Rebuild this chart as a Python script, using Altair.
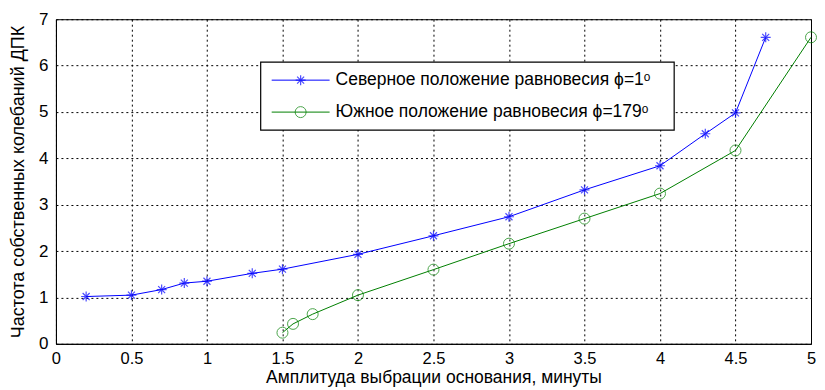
import altair as alt
import pandas as pd

# Data
north_x = [0.2, 0.5, 0.7, 0.85, 1.0, 1.3, 1.5, 2.0, 2.5, 3.0, 3.5, 4.0, 4.3, 4.5, 4.7]
north_y = [1.02, 1.05, 1.17, 1.31, 1.35, 1.52, 1.61, 1.93, 2.33, 2.74, 3.32, 3.84, 4.53, 4.98, 6.61]
south_x = [1.5, 1.57, 1.7, 2.0, 2.5, 3.0, 3.5, 4.0, 4.5, 5.0]
south_y = [0.24, 0.43, 0.64, 1.05, 1.60, 2.16, 2.70, 3.24, 4.17, 6.61]

x_ticks = [0, 0.5, 1, 1.5, 2, 2.5, 3, 3.5, 4, 4.5, 5]
y_ticks = [0, 1, 2, 3, 4, 5, 6, 7]

label_north = "Северное положение равновесия ϕ=1ᵒ"
label_south = "Южное положение равновесия ϕ=179ᵒ"
x_title = "Амплитуда выбрации основания, минуты"
y_title = "Частота собственных колебаний ДПК"

BLUE = "#0000FF"
GREEN = "#008000"
STAR = "M0,-1L0,1M-1,0L1,0M-0.7,-0.7L0.7,0.7M-0.7,0.7L0.7,-0.7"
FONT = "Liberation Sans"

W, H = 756, 325

north = pd.DataFrame({"x": north_x, "y": north_y})
south = pd.DataFrame({"x": south_x, "y": south_y})

xs = alt.Scale(domain=[0, 5], nice=False, zero=False)
ys = alt.Scale(domain=[0, 7], nice=False, zero=False)

xax = alt.Axis(values=x_ticks, format="~g", title=x_title, grid=True,
               gridDash=[2, 3], gridColor="black", gridOpacity=1, gridWidth=1,
               ticks=False, labelFont=FONT, labelFontSize=16.5, labelColor="black",
               labelPadding=7, titleFont=FONT, titleFontSize=17.5,
               titleFontWeight="normal", titleColor="black", titlePadding=1,
               domainColor="black", labelFlush=False)
yax = alt.Axis(values=y_ticks, format="~g", title=y_title, grid=True,
               gridDash=[2, 3], gridColor="black", gridOpacity=1, gridWidth=1,
               ticks=False, labelFont=FONT, labelFontSize=17, labelColor="black",
               labelPadding=8, titleFont=FONT, titleFontSize=18,
               titleFontWeight="normal", titleColor="black", titlePadding=11,
               domainColor="black", labelFlush=False)

n_line = alt.Chart(north).mark_line(color=BLUE, strokeWidth=1).encode(
    x=alt.X("x:Q", scale=xs, axis=xax), y=alt.Y("y:Q", scale=ys, axis=yax))
n_pts = alt.Chart(north).mark_point(shape=STAR, color=BLUE, size=100, strokeWidth=1.2).encode(
    x=alt.X("x:Q", scale=xs), y=alt.Y("y:Q", scale=ys))
s_line = alt.Chart(south).mark_line(color=GREEN, strokeWidth=1).encode(
    x=alt.X("x:Q", scale=xs), y=alt.Y("y:Q", scale=ys))
s_pts = alt.Chart(south).mark_point(shape="circle", color=GREEN, size=121, strokeWidth=1, filled=False).encode(
    x=alt.X("x:Q", scale=xs), y=alt.Y("y:Q", scale=ys))

one = pd.DataFrame({"a": [0]})
leg_box = alt.Chart(one).mark_rect(fill="white", stroke="black", strokeWidth=1.2).encode(
    x=alt.value(205), x2=alt.value(619), y=alt.value(43), y2=alt.value(111))
leg_l1 = alt.Chart(one).mark_rule(color=BLUE, strokeWidth=1).encode(
    x=alt.value(216), x2=alt.value(274), y=alt.value(61))
leg_p1 = alt.Chart(one).mark_point(shape=STAR, color=BLUE, size=100, strokeWidth=1.2).encode(
    x=alt.value(245), y=alt.value(61))
leg_t1 = alt.Chart(one).mark_text(align="left", baseline="middle", font=FONT, fontSize=17.5, color="black").encode(
    x=alt.value(280), y=alt.value(61), text=alt.value(label_north))
leg_l2 = alt.Chart(one).mark_rule(color=GREEN, strokeWidth=1).encode(
    x=alt.value(216), x2=alt.value(274), y=alt.value(93))
leg_p2 = alt.Chart(one).mark_point(shape="circle", color=GREEN, size=121, strokeWidth=1, filled=False).encode(
    x=alt.value(245), y=alt.value(93))
leg_t2 = alt.Chart(one).mark_text(align="left", baseline="middle", font=FONT, fontSize=17.5, color="black").encode(
    x=alt.value(280), y=alt.value(93), text=alt.value(label_south))

chart = alt.layer(
    n_line, n_pts, s_line, s_pts,
    leg_box, leg_l1, leg_p1, leg_t1, leg_l2, leg_p2, leg_t2
).properties(
    width=W, height=H,
    autosize=alt.AutoSizeParams(type="none"),
    padding={"left": 48, "top": 11, "right": 6, "bottom": 46},
    background="white",
).configure_view(stroke="black", strokeWidth=1)

chart.save("out.html", embed_options={"renderer": "svg", "actions": False})
